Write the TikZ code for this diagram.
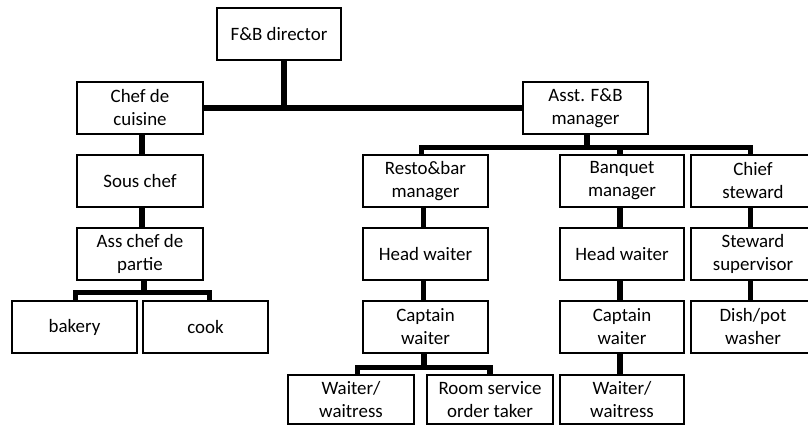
\documentclass[tikz,border=0pt]{standalone}
\usepackage{fontspec}
\setmainfont{Carlito}
\begin{document}
\begin{tikzpicture}[x=1pt,y=-1pt,
  box/.style={draw, line width=2pt, rectangle, minimum width=125pt,
    minimum height=52pt, inner sep=0pt, align=center,
    font=\fontsize{18.9}{23}\selectfont},
  lowbox/.style={box, minimum height=49pt},
  link/.style={line width=5.5pt, line join=miter}]
\useasboundingbox (0,0) rectangle (808,426);

% top level
\node[box, minimum width=124pt] (dir) at (279,34) {F\&B director};
\node[box, minimum width=126pt] (chef) at (140,108) {Chef de\\cuisine};
\node[box] (asst) at (585.5,108) {Asst. F\&B\\manager};

% kitchen branch
\node[box, minimum width=126pt] (sous) at (140,181) {Sous chef};
\node[box, minimum width=126pt] (asschef) at (140,254) {Ass chef de\\partie};
\node[box] (bakery) at (74.5,327) {bakery};
\node[box] (cook) at (205.5,327) {cook};

% restaurant & bar branch
\node[box] (resto) at (425.5,181) {Resto\&bar\\manager};
\node[box] (head1) at (425.5,254) {Head waiter};
\node[box] (cap1) at (425.5,327) {Captain\\waiter};
\node[lowbox, minimum width=126pt] (wait1) at (351,399.5) {Waiter/\\waitress};
\node[lowbox, minimum width=126pt] (room) at (490,399.5) {Room service\\order taker};

% banquet branch
\node[box, minimum width=124pt] (banq) at (622,181) {Banquet\\manager};
\node[box, minimum width=124pt] (head2) at (622,254) {Head waiter};
\node[box, minimum width=124pt] (cap2) at (622,327) {Captain\\waiter};
\node[lowbox, minimum width=124pt] (wait2) at (622,399.5) {Waiter/\\waitress};

% stewarding branch
\node[box, minimum width=124pt] (chiefst) at (753,181) {Chief\\steward};
\node[box, minimum width=124pt] (stsup) at (753,254) {Steward\\supervisor};
\node[box, minimum width=124pt] (dish) at (753,327) {Dish/pot\\washer};

% connectors
\draw[link] (chef.east) -- (asst.west);
\draw[link] ([xshift=5pt]dir.south) -- ([xshift=5pt]dir.south |- chef.east);

\draw[link] ([xshift=2pt]chef.south) -- ([xshift=2pt]sous.north);
\draw[link] ([xshift=2pt]sous.south) -- ([xshift=2pt]asschef.north);
\draw[link] ([xshift=4pt]asschef.south) -- ++(0,11.5) -| ([xshift=1pt]bakery.north);
\draw[link] ([xshift=4pt]asschef.south) -- ++(0,11.5) -| ([xshift=4pt]cook.north);

\draw[link] ([xshift=1.5pt]asst.south) -- ++(0,12.5) -| ([xshift=-4pt]resto.north);
\draw[link] ([xshift=1.5pt]asst.south) -- ++(0,12.5) -| ([xshift=-2pt]banq.north);
\draw[link] ([xshift=1.5pt]asst.south) -- ++(0,12.5) -| ([xshift=-2.5pt]chiefst.north);

\draw[link] ([xshift=-2pt]resto.south) -- ([xshift=-2pt]head1.north);
\draw[link] ([xshift=-2pt]head1.south) -- ([xshift=-2pt]cap1.north);
\draw[link] ([xshift=-1.5pt]cap1.south) -- ++(0,13.5) -| ([xshift=6.5pt]wait1.north);
\draw[link] ([xshift=-1.5pt]cap1.south) -- ++(0,13.5) -| (room.north);

\draw[link] ([xshift=-2pt]banq.south) -- ([xshift=-2pt]head2.north);
\draw[link] ([xshift=-2pt]head2.south) -- ([xshift=-2pt]cap2.north);
\draw[link] ([xshift=-2pt]cap2.south) -- ([xshift=-2pt]wait2.north);

\draw[link] ([xshift=-2.5pt]chiefst.south) -- ([xshift=-2.5pt]stsup.north);
\draw[link] ([xshift=-2.5pt]stsup.south) -- ([xshift=-2.5pt]dish.north);
\end{tikzpicture}
\end{document}
